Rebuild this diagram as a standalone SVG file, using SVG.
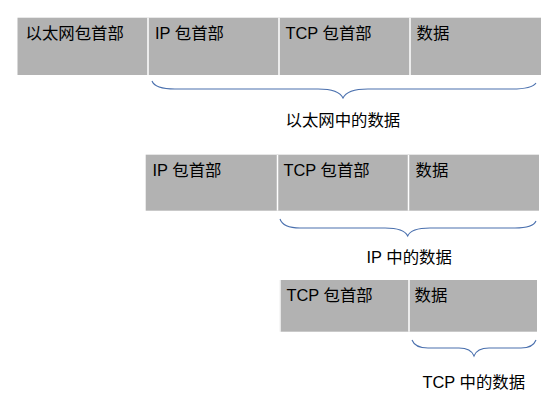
<svg xmlns="http://www.w3.org/2000/svg" width="555" height="400" viewBox="0 0 555 400">
<style>
.cell{fill:#b2b2b2;stroke:none}
.sep{stroke:#ffffff;stroke-width:1.5}
text{font-family:"Liberation Sans","Noto Sans CJK SC",sans-serif;font-size:16.4px;fill:#000}
.brace{fill:none;stroke:#4a70ae;stroke-width:1.1}
</style>
<rect width="555" height="400" fill="#fff"/>
<g id="row1">
<rect class="cell" x="17.5" y="17.7" width="523.5" height="57.3"/>
<line class="sep" x1="148" y1="17.7" x2="148" y2="75"/>
<line class="sep" x1="279" y1="17.7" x2="279" y2="75"/>
<line class="sep" x1="410" y1="17.7" x2="410" y2="75"/>
<text x="25.5" y="39">以太网包首部</text>
<text x="155" y="39">IP 包首部</text>
<text x="285.5" y="39">TCP 包首部</text>
<text x="416.5" y="39">数据</text>
</g>
<g id="row2">
<rect class="cell" x="145.7" y="155" width="393.3" height="55.7"/>
<line x1="145.7" y1="154.5" x2="539" y2="154.5" stroke="#e6e6e6" stroke-width="1"/>
<line class="sep" x1="277.5" y1="155" x2="277.5" y2="210.7"/>
<line class="sep" x1="408.5" y1="155" x2="408.5" y2="210.7"/>
<text x="152.5" y="176">IP 包首部</text>
<text x="283.5" y="176">TCP 包首部</text>
<text x="415.5" y="176">数据</text>
</g>
<g id="row3">
<rect class="cell" x="280.7" y="280" width="256.3" height="51.7"/>
<line x1="280.2" y1="280" x2="280.2" y2="331.7" stroke="#e6e6e6" stroke-width="1"/>
<line class="sep" x1="409" y1="280" x2="409" y2="331.7"/>
<text x="286.5" y="300.5">TCP 包首部</text>
<text x="414.5" y="300.5">数据</text>
</g>
<g id="connectors">
<path class="brace" d="M152,81 Q155,89 175,89 L318,89 Q339,89 343,98 Q347,89 368,89 L512,89 Q532,89 536,83"/>
<path class="brace" d="M280,219 Q283,228 300,228 L385,228 Q404,228 407.7,236 Q411,228 430,228 L515,228 Q533,228 536,221"/>
<path class="brace" d="M412,340 Q415,348 428,348 L459,348 Q471,348 474,356 Q477,348 489,348 L521,348 Q533,348 536,340"/>
</g>
<g id="labels">
<text x="285.5" y="126">以太网中的数据</text>
<text x="366.5" y="263">IP 中的数据</text>
<text x="422.5" y="388">TCP 中的数据</text>
</g>
</svg>
